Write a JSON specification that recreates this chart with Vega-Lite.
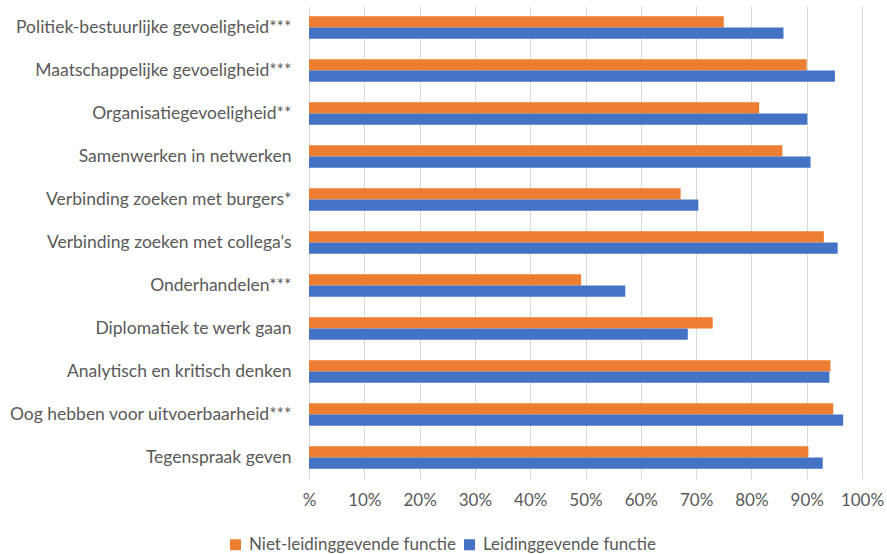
{
  "$schema": "https://vega.github.io/schema/vega-lite/v6.json",
  "autosize": "none",
  "width": 553,
  "height": 473,
  "padding": {"left": 309, "top": 6, "right": 25, "bottom": 75},
  "background": "white",
  "config": {"font": "Lato", "view": {"stroke": null}},
  "data": {
    "values": [
      {"item": "Politiek-bestuurlijke gevoeligheid***", "groep": "Niet-leidinggevende functie", "waarde": 75.0},
      {"item": "Politiek-bestuurlijke gevoeligheid***", "groep": "Leidinggevende functie", "waarde": 85.8},
      {"item": "Maatschappelijke gevoeligheid***", "groep": "Niet-leidinggevende functie", "waarde": 90.0},
      {"item": "Maatschappelijke gevoeligheid***", "groep": "Leidinggevende functie", "waarde": 95.1},
      {"item": "Organisatiegevoeligheid**", "groep": "Niet-leidinggevende functie", "waarde": 81.4},
      {"item": "Organisatiegevoeligheid**", "groep": "Leidinggevende functie", "waarde": 90.1},
      {"item": "Samenwerken in netwerken", "groep": "Niet-leidinggevende functie", "waarde": 85.6},
      {"item": "Samenwerken in netwerken", "groep": "Leidinggevende functie", "waarde": 90.7},
      {"item": "Verbinding zoeken met burgers*", "groep": "Niet-leidinggevende functie", "waarde": 67.2},
      {"item": "Verbinding zoeken met burgers*", "groep": "Leidinggevende functie", "waarde": 70.4},
      {"item": "Verbinding zoeken met collega's", "groep": "Niet-leidinggevende functie", "waarde": 93.1},
      {"item": "Verbinding zoeken met collega's", "groep": "Leidinggevende functie", "waarde": 95.6},
      {"item": "Onderhandelen***", "groep": "Niet-leidinggevende functie", "waarde": 49.2},
      {"item": "Onderhandelen***", "groep": "Leidinggevende functie", "waarde": 57.2},
      {"item": "Diplomatiek te werk gaan", "groep": "Niet-leidinggevende functie", "waarde": 73.0},
      {"item": "Diplomatiek te werk gaan", "groep": "Leidinggevende functie", "waarde": 68.5},
      {"item": "Analytisch en kritisch denken", "groep": "Niet-leidinggevende functie", "waarde": 94.3},
      {"item": "Analytisch en kritisch denken", "groep": "Leidinggevende functie", "waarde": 94.1},
      {"item": "Oog hebben voor uitvoerbaarheid***", "groep": "Niet-leidinggevende functie", "waarde": 94.8},
      {"item": "Oog hebben voor uitvoerbaarheid***", "groep": "Leidinggevende functie", "waarde": 96.6},
      {"item": "Tegenspraak geven", "groep": "Niet-leidinggevende functie", "waarde": 90.3},
      {"item": "Tegenspraak geven", "groep": "Leidinggevende functie", "waarde": 92.9}
    ]
  },
  "mark": {"type": "bar"},
  "encoding": {
    "y": {
      "field": "item",
      "type": "nominal",
      "sort": null,
      "scale": {"paddingInner": 0.48, "paddingOuter": 0.24},
      "axis": {
        "title": null,
        "ticks": false,
        "domain": false,
        "labelFontSize": 17.5,
        "labelColor": "#595959",
        "labelPadding": 18,
        "labelLimit": 400
      }
    },
    "yOffset": {
      "field": "groep",
      "sort": ["Niet-leidinggevende functie", "Leidinggevende functie"]
    },
    "x": {
      "field": "waarde",
      "type": "quantitative",
      "scale": {"domain": [0, 100]},
      "axis": {
        "title": null,
        "values": [0, 10, 20, 30, 40, 50, 60, 70, 80, 90, 100],
        "labelExpr": "datum.value == 0 ? '%' : datum.value + '%'",
        "labelFlush": false,
        "labelOverlap": false,
        "grid": true,
        "gridColor": "#D9D9D9",
        "gridWidth": 1,
        "domain": false,
        "ticks": false,
        "labelFontSize": 17,
        "labelColor": "#595959",
        "labelPadding": 13
      }
    },
    "color": {
      "field": "groep",
      "type": "nominal",
      "scale": {
        "domain": ["Niet-leidinggevende functie", "Leidinggevende functie"],
        "range": ["#ED7D31", "#4472C4"]
      },
      "legend": {
        "title": null,
        "orient": "none",
        "direction": "horizontal",
        "legendX": -82,
        "legendY": 530,
        "symbolType": "square",
        "symbolSize": 121,
        "symbolStrokeWidth": 0,
        "labelFontSize": 17,
        "labelColor": "#595959",
        "labelOffset": 5,
        "columnPadding": 4,
        "labelLimit": 300
      }
    }
  }
}
